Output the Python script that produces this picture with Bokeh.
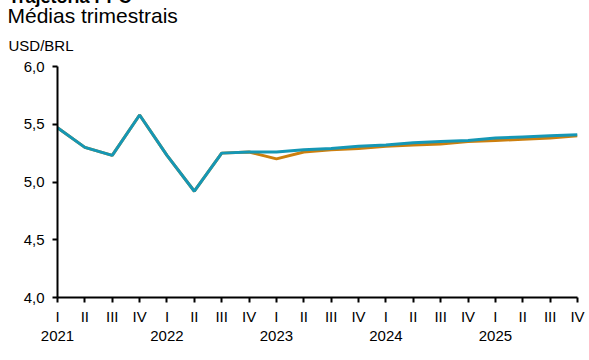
from bokeh.plotting import figure
from bokeh.models import (LinearAxis, FixedTicker, Range1d, Legend, LegendItem,
                          Title, ColumnDataSource)
from bokeh.embed import file_html
from bokeh.resources import INLINE

quarters = ["I", "II", "III", "IV"] * 5
years = ["2021", "2022", "2023", "2024", "2025"]
ri_mar_2023 = [5.47, 5.30, 5.23, 5.58, 5.23, 4.92, 5.25, 5.26, 5.20, 5.26,
               5.28, 5.29, 5.31, 5.32, 5.33, 5.35, 5.36, 5.37, 5.38, 5.40]
ri_dez_2022 = [5.47, 5.30, 5.23, 5.58, 5.23, 4.92, 5.25, 5.26, 5.26, 5.28,
               5.29, 5.31, 5.32, 5.34, 5.35, 5.36, 5.38, 5.39, 5.40, 5.41]
y_ticks = [4.0, 4.5, 5.0, 5.5, 6.0]
y_labels = ["4,0", "4,5", "5,0", "5,5", "6,0"]

FONT = "Liberation Sans"
ORANGE = "#CC7F0E"
TEAL = "#1597B5"

x = list(range(len(quarters)))
src = ColumnDataSource(dict(x=x, mar=ri_mar_2023, dez=ri_dez_2022))

p = figure(frame_width=520, frame_height=231, output_backend="svg",
           toolbar_location=None,
           x_range=Range1d(0, len(quarters) - 1), y_range=Range1d(4.0, 6.0),
           x_axis_location=None, y_axis_location=None,
           min_border_left=57, min_border_right=12, min_border_top=0,
           min_border_bottom=62, margin=(-16, 0, 0, 0))
p.outline_line_color = None
p.grid.visible = False
p.background_fill_color = "white"
p.border_fill_color = "white"

r_mar = p.line("x", "mar", source=src, line_color=ORANGE, line_width=3)
r_dez = p.line("x", "dez", source=src, line_color=TEAL, line_width=3)

# y axis
yax = LinearAxis(ticker=FixedTicker(ticks=y_ticks),
                 major_label_overrides={t: l for t, l in zip(y_ticks, y_labels)})
yax.axis_line_width = 2
yax.axis_line_color = "black"
yax.major_tick_line_width = 2
yax.major_tick_in = 0
yax.major_tick_out = 5
yax.minor_tick_line_color = None
yax.major_label_text_font = FONT
yax.major_label_text_font_size = "15px"
yax.major_label_text_color = "black"
yax.major_label_standoff = 8
p.add_layout(yax, "left")

# x axis: quarters
xax = LinearAxis(ticker=FixedTicker(ticks=x),
                 major_label_overrides={i: q for i, q in enumerate(quarters)})
xax.axis_line_width = 2
xax.axis_line_color = "black"
xax.major_tick_line_width = 2
xax.major_tick_in = 0
xax.major_tick_out = 5
xax.minor_tick_line_color = None
xax.major_label_text_font = FONT
xax.major_label_text_font_size = "15px"
xax.major_label_text_color = "black"
xax.major_label_standoff = 5
p.add_layout(xax, "below")

# x axis: years
year_pos = [i * 4 for i in range(len(years))]
yrax = LinearAxis(ticker=FixedTicker(ticks=year_pos),
                  major_label_overrides={pos: yr for pos, yr in zip(year_pos, years)})
yrax.axis_line_color = None
yrax.major_tick_line_color = None
yrax.major_tick_in = 0
yrax.major_tick_out = 0
yrax.minor_tick_line_color = None
yrax.major_label_text_font = FONT
yrax.major_label_text_font_size = "15px"
yrax.major_label_text_color = "black"
yrax.major_label_standoff = 3
p.add_layout(yrax, "below")

legend = Legend(items=[LegendItem(label="RI Mar 2023", renderers=[r_mar]),
                       LegendItem(label="RI Dez 2022", renderers=[r_dez])],
                orientation="horizontal", location="top_center",
                glyph_width=52, label_standoff=6, spacing=112, padding=0,
                margin=2, border_line_color=None, background_fill_alpha=0,
                label_text_font=FONT, label_text_font_size="15px",
                label_text_color="black")
p.add_layout(legend, "below")

# titles, stacked upward from the plot frame
p.add_layout(Title(text="USD/BRL", align="left", offset=-49, standoff=25,
                   text_font=FONT, text_font_size="15px",
                   text_font_style="normal", text_color="black"), "above")
p.add_layout(Title(text="Médias trimestrais", align="left", offset=-50, standoff=-9,
                   text_font=FONT, text_font_size="21px",
                   text_font_style="normal", text_color="black"), "above")
p.add_layout(Title(text="Trajetória PPC", align="left", offset=-49, standoff=0,
                   text_font=FONT, text_font_size="18px",
                   text_font_style="bold", text_color="black"), "above")

open("out.html", "w").write(file_html(p, INLINE))
